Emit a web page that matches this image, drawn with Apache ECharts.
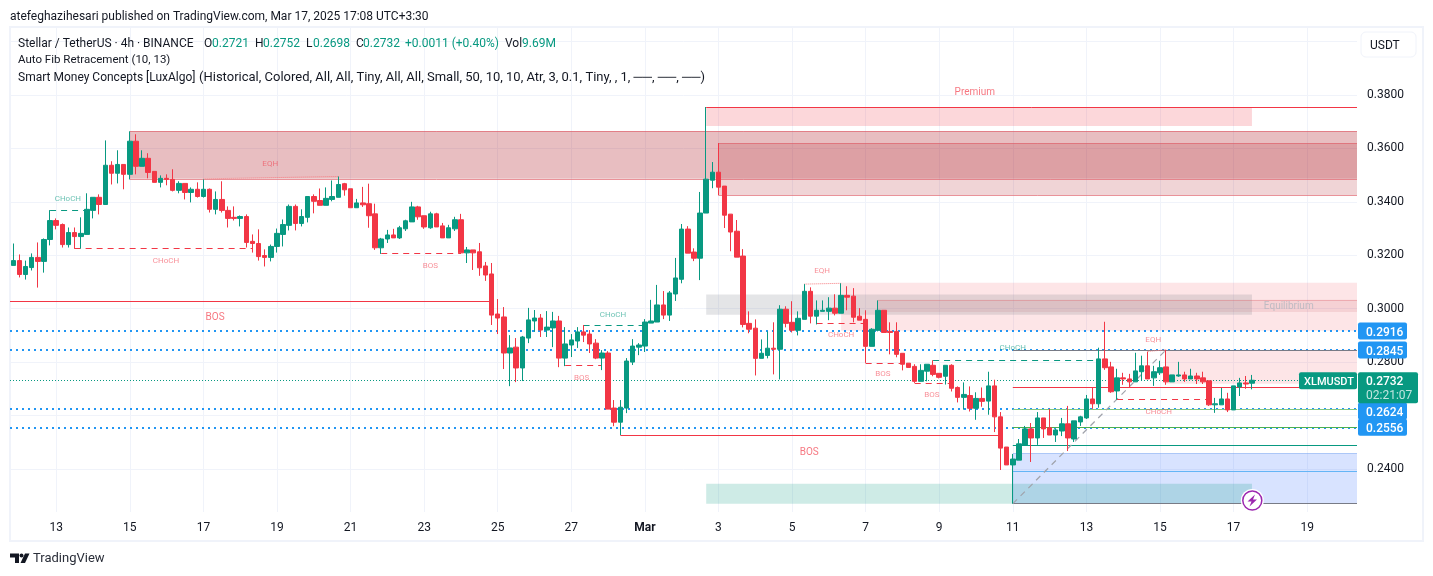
<!DOCTYPE html>
<html><head><meta charset="utf-8">
<style>html,body{margin:0;padding:0;background:#fff}#c{width:1433px;height:576px}</style>
<script src="https://cdn.jsdelivr.net/npm/echarts@6/dist/echarts.min.js"></script>
</head><body><div id="c"></div>
<script>
const opens=[.3162,.3180,.3128,.3154,.3192,.3177,.3259,.3330,.3315,.3240,
.3285,.3270,.3278,.3368,.3417,.3390,.3537,.3507,.3540,.3503,
.3627,.3533,.3563,.3514,.3473,.3488,.3484,.3443,.3469,.3435,
.3447,.3420,.3447,.3372,.3409,.3368,.3342,.3338,.3345,.3252,
.3244,.3199,.3192,.3233,.3278,.3312,.3383,.3319,.3342,.3420,
.3405,.3387,.3409,.3417,.3468,.3449,.3378,.3396,.3393,.3355,
.3228,.3261,.3276,.3265,.3299,.3325,.3381,.3348,.3303,.3355,
.3310,.3265,.3299,.3333,.3209,.3220,.3213,.3160,.3130,.2980,
.2969,.2834,.2856,.2778,.2890,.2954,.2965,.2920,.2928,.2954,
.2815,.2864,.2879,.2913,.2905,.2871,.2815,.2834,.2628,.2575,
.2628,.2800,.2856,.2860,.2946,.2950,.3014,.2976,.3055,.3110,
.3298,.3212,.3189,.3358,.3481,.3511,.3459,.3354,.3290,.3197,
.2945,.2927,.2814,.2825,.2852,.2848,.2998,.2949,.2919,.2960,
.3065,.2972,.2990,.2990,.3002,.2983,.3050,.3047,.2972,.2960,
.2859,.2919,.2994,.2915,.2915,.2833,.2796,.2784,.2728,.2766,
.2788,.2758,.2747,.2788,.2705,.2668,.2675,.2627,.2664,.2654,
.2711,.2595,.2482,.2415,.2433,.2490,.2550,.2516,.2591,.2554,
.2527,.2542,.2569,.2512,.2576,.2591,.2662,.2644,.2812,.2782,
.2692,.2741,.2737,.2726,.2764,.2786,.2741,.2760,.2782,.2726,
.2748,.2752,.2737,.2748,.2741,.2730,.2640,.2640,.2662,.2621,
.2707,.2722,.2721];
const closes=[.3180,.3128,.3158,.3192,.3177,.3259,.3330,.3312,.3240,.3285,
.3270,.3282,.3372,.3417,.3390,.3537,.3507,.3540,.3503,.3627,
.3533,.3563,.3510,.3473,.3488,.3484,.3443,.3469,.3435,.3447,
.3420,.3447,.3372,.3409,.3368,.3338,.3338,.3345,.3248,.3244,
.3195,.3192,.3233,.3282,.3315,.3383,.3319,.3345,.3420,.3402,
.3387,.3413,.3420,.3465,.3445,.3378,.3396,.3389,.3348,.3228,
.3261,.3276,.3265,.3303,.3329,.3381,.3344,.3306,.3355,.3306,
.3265,.3303,.3333,.3209,.3220,.3209,.3153,.3126,.2976,.2965,
.2834,.2853,.2778,.2894,.2958,.2965,.2920,.2931,.2954,.2815,
.2868,.2883,.2913,.2901,.2868,.2815,.2834,.2624,.2575,.2631,
.2804,.2860,.2864,.2950,.2954,.3014,.2976,.3059,.3115,.3298,
.3208,.3189,.3358,.3485,.3511,.3455,.3350,.3287,.3193,.2941,
.2923,.2814,.2833,.2852,.2848,.2998,.2945,.2919,.2964,.3065,
.2972,.2994,.2994,.3002,.2983,.3050,.3043,.2968,.2957,.2859,
.2923,.2994,.2911,.2911,.2829,.2792,.2780,.2728,.2769,.2792,
.2754,.2743,.2788,.2702,.2668,.2679,.2627,.2664,.2653,.2711,
.2595,.2478,.2415,.2437,.2494,.2550,.2516,.2591,.2550,.2527,
.2546,.2569,.2516,.2580,.2595,.2662,.2644,.2812,.2779,.2689,
.2741,.2737,.2726,.2767,.2786,.2737,.2764,.2779,.2726,.2752,
.2752,.2737,.2748,.2737,.2726,.2640,.2644,.2662,.2621,.2711,
.2722,.2718,.2732];
const lows=[.3162,.3117,.3109,.3143,.3079,.3135,.3237,.3297,.3229,.3229,
.3224,.3225,.3278,.3338,.3353,.3390,.3465,.3469,.3447,.3484,
.3503,.3533,.3488,.3473,.3454,.3462,.3439,.3432,.3409,.3398,
.3416,.3416,.3360,.3353,.3360,.3304,.3330,.3308,.3229,.3210,
.3180,.3158,.3177,.3210,.3233,.3293,.3293,.3308,.3323,.3357,
.3387,.3387,.3402,.3417,.3423,.3378,.3378,.3381,.3303,.3220,
.3205,.3246,.3265,.3261,.3291,.3325,.3333,.3299,.3299,.3306,
.3265,.3265,.3291,.3205,.3171,.3145,.3123,.3104,.2939,.2905,
.2774,.2710,.2725,.2729,.2871,.2913,.2894,.2894,.2856,.2781,
.2785,.2819,.2853,.2875,.2834,.2811,.2770,.2624,.2560,.2527,
.2609,.2789,.2826,.2838,.2946,.2950,.2961,.2954,.3029,.3095,
.3208,.3178,.3107,.3358,.3451,.3425,.3302,.3215,.3193,.2930,
.2908,.2750,.2814,.2814,.2754,.2735,.2930,.2911,.2900,.2960,
.2945,.2941,.2990,.2957,.2975,.2983,.2994,.2949,.2957,.2797,
.2859,.2915,.2911,.2829,.2818,.2769,.2780,.2722,.2728,.2728,
.2747,.2739,.2716,.2690,.2649,.2622,.2615,.2584,.2633,.2603,
.2538,.2396,.2415,.2270,.2433,.2490,.2426,.2490,.2516,.2527,
.2501,.2523,.2467,.2501,.2561,.2587,.2625,.2629,.2771,.2685,
.2659,.2715,.2707,.2726,.2730,.2737,.2711,.2752,.2715,.2726,
.2745,.2726,.2737,.2718,.2718,.2636,.2610,.2640,.2613,.2621,
.2673,.2700,.2698];
const highs=[.3244,.3203,.3180,.3207,.3248,.3263,.3369,.3338,.3319,.3304,
.3304,.3342,.3432,.3417,.3428,.3630,.3552,.3593,.3540,.3664,
.3653,.3593,.3582,.3514,.3499,.3503,.3522,.3477,.3469,.3454,
.3473,.3484,.3450,.3439,.3477,.3383,.3383,.3349,.3353,.3278,
.3297,.3222,.3240,.3300,.3334,.3390,.3390,.3372,.3420,.3428,
.3450,.3454,.3480,.3495,.3471,.3449,.3411,.3456,.3468,.3393,
.3265,.3295,.3299,.3310,.3333,.3400,.3385,.3348,.3363,.3359,
.3321,.3314,.3344,.3355,.3231,.3220,.3246,.3175,.3171,.3036,
.3006,.2901,.2890,.2898,.3003,.2995,.2980,.2991,.2988,.2973,
.2931,.2905,.2931,.2939,.2920,.2886,.2845,.2841,.2658,.2658,
.2815,.2886,.2871,.2961,.3033,.3089,.3066,.3066,.3190,.3317,
.3309,.3226,.3437,.3755,.3549,.3620,.3459,.3354,.3332,.3223,
.2990,.2960,.2885,.2915,.2949,.3013,.3009,.3028,.2990,.3092,
.3080,.3031,.3031,.3043,.3054,.3095,.3084,.3077,.3002,.2994,
.2927,.3031,.2994,.2949,.2949,.2833,.2796,.2792,.2792,.2792,
.2807,.2758,.2788,.2792,.2709,.2724,.2709,.2687,.2705,.2764,
.2734,.2613,.2482,.2456,.2512,.2561,.2572,.2613,.2591,.2625,
.2550,.2591,.2636,.2580,.2599,.2677,.2704,.2854,.2951,.2801,
.2775,.2760,.2756,.2835,.2824,.2839,.2786,.2805,.2846,.2752,
.2801,.2764,.2775,.2760,.2764,.2730,.2666,.2703,.2685,.2711,
.2741,.2748,.2752];

// time axis: bar index of each day label
const dateBars=[7,19,31,43,55,67,79,91,103,115,127,139,151,163,175,187,199,211];
const dateLabels=['13','15','17','19','21','23','25','27','Mar','3','5','7','9','11','13','15','17','19'];
// price axis
const gridPrices=[.24,.26,.28,.30,.32,.34,.36,.38,.40];
const labelPrices=[.24,.28,.30,.32,.34,.36,.38];
// view range (bars and prices)
const barMin=-.538, barMax=219.13, priceMin=.22388, priceMax=.40546;
const lastBar=202;

// zones: [barFrom, priceTop, barTo, priceBottom]
const orderBlockA=[19,.3665,barMax,.3486];
const orderBlockB=[115,.3620,barMax,.3426];
const premiumZone=[113,.3755,lastBar,.3684];
const equilibriumZone=[113,.3053,lastBar,.2977];
const discountZone=[113,.2345,lastBar,.2270];
const fibBox=[163,.2457,barMax,.2270];
const pinkZones=[[135,.3097,barMax,.2917],[188,.2846,barMax,.2719]];
const pinkInner=[141,.3033,barMax,.2988];

// levels
const levelPrices=[.2916,.2845,.2624,.2556];
const lastPrice=.2732;
const fibLevels=[.2843,.2705,.2623,.2555,.2488,.2390,.2271];
const fibTrend=[[163,.2270],[188,.2846]];
// structure segments: [barFrom, priceFrom, barTo, priceTo]
const solidRed=[[barMin,.3027,78,.3027],[99,.2525,161,.2525],[113,.3753,barMax,.3753]];
const dashedGreen=[[6,.3368,12,.3368],[93,.2937,103,.2937],[150,.2806,177,.2806]];
const dashedRed=[[10,.3225,39,.3225],[60,.3207,73,.3207],[90,.2787,96,.2787],[131,.2945,139,.2945],[139,.2795,145,.2795],[147,.2720,153,.2720],[180,.2660,195,.2660]];
const dottedEqh=[[31,.3486,53,.3495],[129,.3092,135,.3095],[185,.2840,188,.2846]];
const zoneEdges=[[19,.3665,barMax,.3665],[19,.3486,barMax,.3486],[115,.3620,barMax,.3620],[115,.3426,barMax,.3426]];
const innerEdge=[141,.3033,barMax,.3033];
const fibBoxTop=[163,.2457,barMax,.2457];

// annotations: [bar, price, text]
const tinyGreen=[[8.9,.3412,'CHoCH'],[97.8,.2978,'CHoCH'],[163,.2854,'CHoCH']];
const tinyRed=[[24.9,.3180,'CHoCH'],[68,.3161,'BOS'],[92.7,.2742,'BOS'],[135,.2903,'CHoCH'],[141.8,.2754,'BOS'],[149.8,.2675,'BOS'],[186.8,.2615,'CHoCH'],[41.9,.3543,'EQH'],[131.9,.3142,'EQH'],[185.9,.2884,'EQH']];
const smallRed=[[32.9,.2966,'BOS'],[129.8,.2462,'BOS'],[156.8,.3808,'Premium']];
const smallGrey=[[208,.3008,'Equilibrium']];

// legend text
const legendOhlc=[['O','0.2721'],['H','0.2752'],['L','0.2698'],['C','0.2732']];
const legendChange='+0.0011 (+0.40%)';
const legendVol='9.69M';

const FONT='Roboto';
const UP='#089981', DOWN='#f23645';
const fibColors=['#787b86','#f23645','#81c784','#4caf50','#089981','#64b5f6','#787b86'];

const zone=(z,color)=>[{coord:[z[0],z[1]],itemStyle:{color,borderWidth:0}},{coord:[z[2],z[3]]}];
const seg=(s,style)=>[{coord:[s[0],s[1]],lineStyle:style},{coord:[s[2],s[3]]}];
const textSeries=(data,color,size)=>({type:'scatter',data,symbolSize:1,silent:true,z:7,
  label:{show:true,position:'inside',formatter:p=>p.data[2],color,fontSize:size,fontFamily:FONT},
  itemStyle:{color:'transparent'},animation:false});

const chart=echarts.init(document.getElementById('c'),null,{renderer:'canvas'});
chart.setOption({
  animation:false,
  backgroundColor:'#fff',
  grid:{left:10,top:27,width:1347,height:485,containLabel:false},
  xAxis:{type:'value',min:barMin,max:barMax,
    axisLine:{show:false},
    axisTick:{show:false,customValues:dateBars},
    splitLine:{show:true,lineStyle:{color:'#f0f3fa',width:1}},
    axisLabel:{show:true,customValues:dateBars,margin:10,color:'#131722',fontSize:12,fontFamily:FONT,
      formatter:v=>{const l=dateLabels[dateBars.indexOf(v)];return l==='Mar'?'{b|Mar}':l;},
      rich:{b:{fontWeight:'bold',fontSize:12,color:'#131722',fontFamily:FONT}}}},
  yAxis:{type:'value',position:'right',min:priceMin,max:priceMax,
    axisLine:{show:false},
    axisTick:{show:false,customValues:gridPrices},
    splitLine:{show:true,lineStyle:{color:'#f0f3fa',width:1}},
    axisLabel:{show:true,customValues:labelPrices,inside:false,margin:10,align:'left',color:'#131722',fontSize:12,fontFamily:FONT,
      padding:[4,0,0,0],formatter:v=>v.toFixed(4)}},
  series:[
    {type:'line',data:[],z:1,silent:true,
      markArea:{silent:true,z:1,data:[
        zone(orderBlockA,'rgba(178,40,51,.3)'),
        zone(orderBlockB,'rgba(178,40,51,.2)'),
        zone(premiumZone,'rgba(242,54,69,.2)'),
        zone(pinkZones[0],'rgba(242,54,69,.13)'),
        zone(pinkZones[1],'rgba(242,54,69,.13)'),
        zone(pinkInner,'rgba(178,40,51,.1)'),
        zone(equilibriumZone,'rgba(120,123,134,.2)'),
        zone(fibBox,'rgba(41,98,255,.18)'),
        zone(discountZone,'rgba(8,153,129,.2)')
      ]},
      markLine:{silent:true,z:2,symbol:'none',label:{show:false},data:[
        ...zoneEdges.map(s=>seg(s,{color:'rgba(224,100,110,.7)',width:1,type:'solid'})),
        seg(innerEdge,{color:'rgba(224,100,110,.35)',width:1,type:'solid'}),
        seg(fibBoxTop,{color:'rgba(100,150,240,.5)',width:1,type:'solid'}),
        ...levelPrices.map(p=>seg([barMin,p,barMax,p],{color:'#2196f3',width:2,type:[2,4]})),
        seg([barMin,lastPrice,barMax,lastPrice],{color:UP,width:1,type:[1,2]}),
        ...fibLevels.map((p,i)=>seg([163,p,barMax,p],{color:fibColors[i],width:1,type:'solid'})),
        seg([fibTrend[0][0],fibTrend[0][1],fibTrend[1][0],fibTrend[1][1]],{color:'#a0a3ab',width:1.2,type:[6,5]}),
        ...solidRed.map(s=>seg(s,{color:DOWN,width:1,type:'solid'})),
        ...dashedGreen.map(s=>seg(s,{color:UP,width:1,type:[6,5]})),
        ...dashedRed.map(s=>seg(s,{color:DOWN,width:1,type:[6,5]})),
        ...dottedEqh.map(s=>seg(s,{color:'#f77c80',width:1,type:[1,1]}))
      ]}},
    {type:'candlestick',z:4,silent:true,barWidth:5,
      encode:{x:0,y:[1,2,3,4]},
      data:opens.map((o,i)=>[i,o,closes[i],lows[i],highs[i]]),
      itemStyle:{color:UP,color0:DOWN,borderColor:UP,borderColor0:DOWN,borderWidth:1}},
    textSeries(tinyGreen,'rgba(8,153,129,.75)',8),
    textSeries(tinyRed,'rgba(242,54,69,.7)',8),
    textSeries(smallRed,'rgba(242,54,69,.85)',10),
    textSeries(smallGrey,'#b2b5be',10)
  ]
});

const yOf=p=>chart.convertToPixel({yAxisIndex:0},p);
const txt=(x,y,text,o)=>({type:'text',x,y:y+1.5,z:30,silent:true,style:Object.assign({text,fill:'#131722',fontSize:12,fontFamily:FONT,verticalAlign:'middle'},o||{})});
const rect=(x,y,w,h,fill,r,stroke)=>({type:'rect',z:20,silent:true,shape:{x,y,width:w,height:h,r:r||0},style:{fill,stroke:stroke||null,lineWidth:stroke?1:0}});
const graphics=[
  {type:'rect',z:0,silent:true,shape:{x:10,y:27,width:1413,height:514},style:{fill:'none',stroke:'#f0f3fa',lineWidth:2}},
  txt(10,15,'atefeghazihesari published on TradingView.com, Mar 17, 2025 17:08 UTC+3:30'),
  txt(18,42,'Stellar / TetherUS · 4h · BINANCE'),
  txt(18,59,'Auto Fib Retracement (10, 13)',{fontSize:11.5}),
  txt(18,76,'Smart Money Concepts [LuxAlgo]'),
  txt(199,76,'(Historical, Colored, All, All, Tiny, All, All, Small, 50, 10, 10, Atr, 3, 0.1, Tiny, , 1, ──, ──, ──)',{fontSize:13}),
  rect(1361,32,55,25,'#fff',5,'#f0f3fa'),
  txt(1370,44,'USDT'),
];
const ohlcX=[[204,212],[255,263],[306,313],[356,363]];
legendOhlc.forEach((row,i)=>{
  graphics.push(txt(ohlcX[i][0],42,row[0]));
  graphics.push(txt(ohlcX[i][1],42,row[1],{fill:UP}));
});
graphics.push(txt(405,42,legendChange,{fill:UP}));
graphics.push(txt(505,42,'Vol'));
graphics.push(txt(522,42,legendVol,{fill:UP}));

levelPrices.forEach(p=>{
  const y=yOf(p)+(p===.2624?2:0);
  graphics.push(rect(1358,y-8.5,49,17,'#2196f3',2));
  graphics.push(txt(1366,y+.5,p.toFixed(4),{fill:'#fff',fontWeight:500}));
});
const ly=yOf(lastPrice);
graphics.push(rect(1299,ly-8,58,17,UP,2));
graphics.push(txt(1304,ly,'XLMUSDT',{fill:'#fff',fontWeight:500,fontSize:11}));
graphics.push(rect(1358,ly-8,60,31,UP,2));
graphics.push(txt(1366,ly,lastPrice.toFixed(4),{fill:'#fff',fontWeight:500}));
graphics.push(txt(1366,ly+14,'02:21:07',{fill:'rgba(255,255,255,.75)'}));
// lightning badge
graphics.push({type:'circle',z:21,silent:true,shape:{cx:1252.3,cy:500.5,r:11.5},style:{fill:'#fff'}});
graphics.push({type:'circle',z:22,silent:true,shape:{cx:1252.3,cy:500.5,r:9.5},style:{fill:'#fff',stroke:'#9c27b0',lineWidth:1.5}});
graphics.push({type:'polygon',z:23,silent:true,shape:{points:[[1255,494.5],[1247.5,501.5],[1251.5,501.5],[1249.5,506.5],[1257,499.5],[1253,499.5]]},style:{fill:'#9c27b0'}});
// footer logo
graphics.push({type:'polygon',z:30,silent:true,shape:{points:[[10,553.5],[19,553.5],[19,563],[15,563],[15,557.5],[10,557.5]]},style:{fill:'#131722'}});
graphics.push({type:'circle',z:30,silent:true,shape:{cx:21.5,cy:555.5,r:2},style:{fill:'#131722'}});
graphics.push({type:'polygon',z:30,silent:true,shape:{points:[[25,553.5],[29.5,553.5],[25,563],[20.5,563]]},style:{fill:'#131722'}});
graphics.push(txt(33,557,'TradingView',{fontSize:13,fill:'#2a2e39'}));
chart.setOption({graphic:{elements:graphics}});
</script>
</body></html>
